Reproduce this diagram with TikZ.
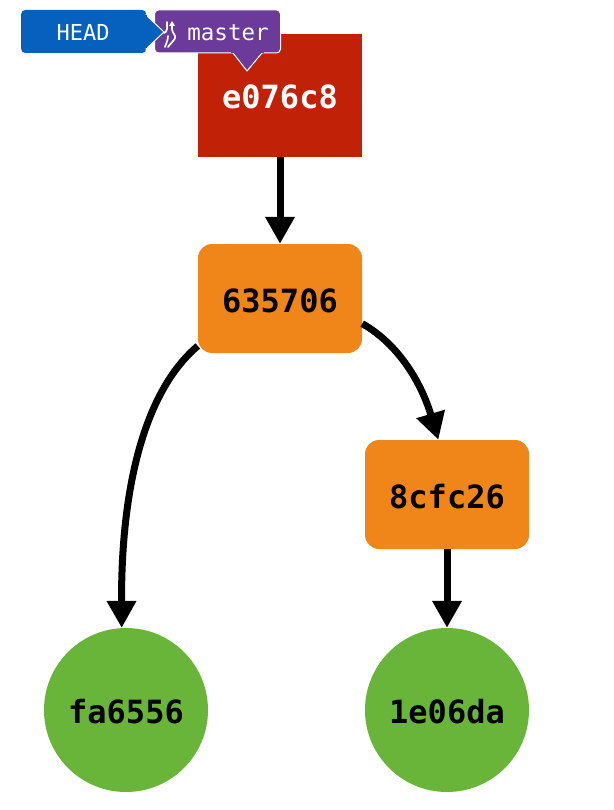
\documentclass[tikz,border=0pt]{standalone}
\usepackage{fontspec}
\setmonofont{DejaVu Sans Mono}
\usetikzlibrary{arrows.meta}
\definecolor{cred}{HTML}{C12106}
\definecolor{corange}{HTML}{F0861A}
\definecolor{cgreen}{HTML}{69B53A}
\definecolor{cblue}{HTML}{0560BE}
\definecolor{cpurple}{HTML}{6C3A98}
\tikzset{
  x=1pt,y=-1pt,
  commit/.style={inner sep=0pt,text height=27pt,text depth=0pt,font=\fontsize{32}{32}\selectfont\ttfamily\bfseries},
  squarebox/.style={commit,minimum width=164pt,minimum height=123pt,fill=cred,text=white},
  orangebox/.style={commit,minimum width=164pt,minimum height=109pt,fill=corange,rounded corners=14pt,text=black},
  greendot/.style={commit,circle,minimum size=164pt,fill=cgreen,text=black},
  link/.style={line width=7pt,draw=black,-{Triangle[length=27pt,width=28pt]}},
  tag/.style={inner sep=0pt,text height=19pt,text depth=0pt,minimum height=43pt,rounded corners=4pt,text=white,font=\fontsize{22.5}{23}\selectfont\ttfamily},
  icon/.style={draw=white,line width=1.7pt,line cap=round}
}
\begin{document}
\begin{tikzpicture}
\useasboundingbox (0,0) rectangle (613,810);
\node[squarebox] (a) at (280,95.5) {e076c8};
\node[orangebox] (b) at (280,298.5) {635706};
\node[orangebox] (c) at (447,494.5) {8cfc26};
\node[greendot] (d) at (126,710) {fa6556};
\node[greendot] (e) at (447,710) {1e06da};
\draw[link] (a.south) -- (b.north);
\draw[link] (b.210) .. controls (140,395) and (121,500) .. (d.93);
\draw[link] (b.343) .. controls (400,345) and (422,385) .. (c.99);
\draw[link] (c.south) -- (e.north);
\node[tag,fill=cblue,minimum width=125pt,anchor=west,text width=125pt,align=left] (head) at (21,31.5) {\hspace*{35.5pt}\fontsize{22}{23}\selectfont HEAD};
\node[tag,fill=cpurple,draw=white,line width=1pt,minimum width=126pt,anchor=west] (master) at (154,31.5) {\hspace*{21pt}master};
\fill[cpurple,draw=white,line width=1pt,line join=miter] (233,53) -- (247,71) -- (262,53);
\fill[cpurple] (231,50) rectangle (264,53);
\fill[cblue,draw=white,line width=1pt] (146,15) -- (164,32) -- (146,49) -- cycle;
\fill[cblue] (140,15.5) rectangle (146.5,48.5);
\draw[icon] (167,22) -- (167,29) .. controls (167,31) and (165,33) .. (164,33);
\draw[icon] (168,36) .. controls (168,40) and (166,44) .. (165,47);
\draw[icon] (172,24) -- (172,29) .. controls (172,33) and (176,35) .. (175,38) .. controls (174,41) and (170,44) .. (168,47);
\fill[white] (169,26) -- (172,21) -- (175,26) -- cycle;
\end{tikzpicture}
\end{document}
